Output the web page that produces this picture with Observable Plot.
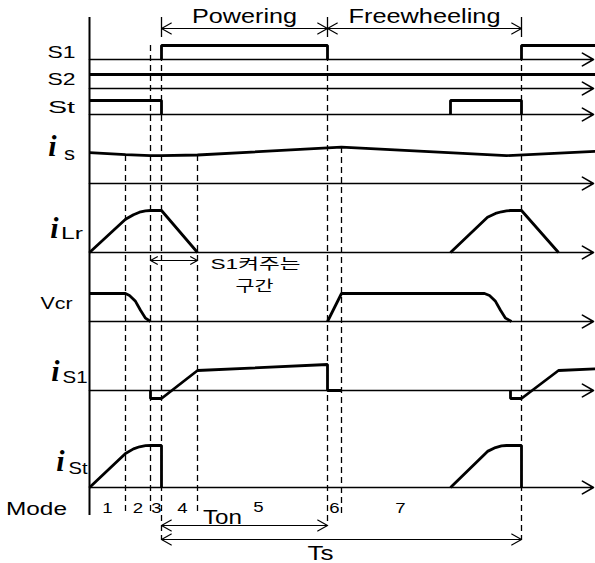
<!DOCTYPE html>
<html><head><meta charset="utf-8">
<script src="https://cdn.jsdelivr.net/npm/d3@7"></script>
<script src="https://cdn.jsdelivr.net/npm/@observablehq/plot@0.6"></script>
<style>body{margin:0;background:#fff}#chart{width:595px;height:563px}</style>
</head><body><div id="chart"></div>
<script>
// ---------------- DATA ----------------
// time unit: one switching period Ts = 360; t = 0 at the vertical axis
const lanes = ["S1", "S2", "St", "is", "iLr", "Vcr", "iS1", "iSt"];
const modeBounds = [36, 61, 72, 108, 238, 252, 432];
const modeNames = ["1", "2", "3", "4", "5", "6", "7"];
const modeLabelAt = [18, 48.5, 67, 93, 169, 245, 311];
const tEnd = 504;

// waveforms: list of segments, each a list of [t, normalized level]
const waveS1 = [[[72,0],[72,1],[238,1],[238,0]], [[432,0],[432,1],[506,1]]];
const waveS2 = [[[0,1],[506,1]]];
const waveSt = [[[0,1],[72,1],[72,0]], [[361,0],[361,1],[432,1],[432,0]]];
const waveIs = [[[0,1.03],[36,0.96],[61,0.93],[72,0.93],[108,0.95],[252,1.21],[417,0.93],[506,1.07]]];
const waveILr = [[[0,0],[36,0.79],[44,0.9],[50,0.96],[56,0.99],[61,1],[72,1],[108,0]],
                 [[361,0],[398,0.84],[406,0.93],[412,0.97],[417,0.99],[421,1],[432,1],[469,0]]];
const waveVcr = [[[0,1],[36,1],[40,0.93],[46,0.72],[51,0.4],[56,0.12],[61,0]],
                 [[238,0],[252,1],[395,1],[400,0.93],[406,0.72],[411,0.4],[416,0.12],[422,0]]];
const waveIS1 = [[[61,0],[61,-0.4],[72,-0.4],[108,1],[238,1.3],[238,0],[252,0]],
                 [[421,0],[421,-0.4],[432,-0.4],[469,1],[506,1.08]]];
const waveISt = [[[0,0],[36,0.81],[44,0.92],[50,0.97],[56,0.995],[61,1],[72,1],[72,0]],
                 [[361,0],[398,0.86],[406,0.95],[412,0.99],[417,1],[432,1],[432,0]]];

const spanNames = ["Powering", "Freewheeling", "Ton", "Ts", "S1켜주는 구간"];
const spanStart = [72, 238, 72, 72, 61];
const spanEnd = [238, 432, 238, 432, 108];

// ---------------- LAYOUT ----------------
const base = {S1:59, S2:88, St:114, is:183, iLr:252, Vcr:321, iS1:390, iSt:487};
const amp  = {S1:14, S2:14, St:14, is:30, iLr:42, Vcr:28, iS1:20, iSt:42};
const waves = {S1:waveS1, S2:waveS2, St:waveSt, is:waveIs, iLr:waveILr, Vcr:waveVcr, iS1:waveIS1, iSt:waveISt};
const X0 = 89;

const rows = [];
for (const lane of lanes) waves[lane].forEach((seg, k) => seg.forEach(([t, v]) =>
  rows.push({lane, seg: lane + k, t, y: base[lane] - v * amp[lane]})));

// dashed mode boundaries: [top, bottom]
const dashExtent = [[155,515],[45,515],[45,540],[155,512],[45,526],[147,513],[45,540]];
const dashRows = modeBounds.map((t, i) => ({t, y1: dashExtent[i][0], y2: dashExtent[i][1]}));
const tickRows = [72, 238, 432].map(t => ({t, y1: 17, y2: 37}));

const spanY = [28, 28, 525, 539, 260];
const arrows = [];
spanNames.forEach((s, i) => {
  const m = (spanStart[i] + spanEnd[i]) / 2;
  arrows.push({x1: m, x2: spanStart[i], y: spanY[i]});
  arrows.push({x1: m, x2: spanEnd[i], y: spanY[i]});
});

const texts = [
  {s: spanNames[0], px: 244, y: 22, size: 21, w: 105},
  {s: spanNames[1], px: 424, y: 22, size: 21, w: 152},
  {s: "S1", px: 61, y: 57, size: 17, w: 28},
  {s: "S2", px: 61, y: 84, size: 17, w: 28},
  {s: "St", px: 61, y: 112, size: 17, w: 27},
  {s: "s", px: 69, y: 159, size: 18, w: 11},
  {s: "Lr", px: 71.5, y: 238, size: 16.5, w: 22},
  {s: "Vcr", px: 56, y: 308, size: 17, w: 32},
  {s: "S1", px: 74.5, y: 382, size: 17, w: 25},
  {s: "St", px: 77.5, y: 473, size: 17, w: 19},
  {s: "Mode", px: 36, y: 514, size: 18, w: 61},
  ...modeNames.map((s, i) => ({s, px: modeLabelAt[i] + X0, y: i === 4 ? 511 : 512, size: 15.5})),
  {s: spanNames[2], px: 222, y: 523, size: 19.5, w: 39},
  {s: spanNames[3], px: 320, y: 559, size: 19.5, w: 26},
  {s: "S1켜주는", px: 255, y: 268, size: 15, w: 90},
  {s: "구간", px: 254, y: 290, size: 15, w: 38}
];
const italicI = [{px: 52, y: 155}, {px: 54, y: 237}, {px: 55, y: 380}, {px: 60, y: 470}];

const plot = Plot.plot({
  width: 595, height: 563, margin: 0,
  style: {fontFamily: "Liberation Sans, Arial, sans-serif"},
  x: {type: "linear", domain: [-X0, 595 - X0], range: [0, 595], axis: null},
  y: {type: "linear", domain: [0, 563], range: [0, 563], axis: null},
  marks: [
    Plot.ruleX([0], {x: d => d, y1: () => 17, y2: () => 515, stroke: "black", strokeWidth: 2}),
    Plot.ruleX(dashRows, {x: "t", y1: "y1", y2: "y2", stroke: "black", strokeWidth: 1.3, strokeDasharray: "6,4"}),
    Plot.ruleX(tickRows, {x: "t", y1: "y1", y2: "y2", stroke: "black", strokeWidth: 1.3}),
    Plot.arrow(lanes, {x1: () => 0, x2: () => tEnd, y1: d => base[d], y2: d => base[d],
      stroke: "black", strokeWidth: 1.6, headLength: 12, headAngle: 60}),
    Plot.arrow(arrows, {x1: "x1", x2: "x2", y1: "y", y2: "y", stroke: "black", strokeWidth: 1.2,
      headLength: 14, headAngle: 58}),
    Plot.line(rows, {x: "t", y: "y", z: "seg", stroke: "black", strokeWidth: 2.8,
      strokeLinejoin: "miter", strokeLinecap: "butt"}),
    Plot.text(texts, {x: d => d.px - X0, y: "y", text: "s", fontSize: d => d.size, textAnchor: "middle",
      lineAnchor: "bottom", fontFamily: "Liberation Sans, Arial, Noto Sans CJK KR, sans-serif",
      fill: "black", ariaDescription: "labels"}),
    Plot.text(italicI, {x: d => d.px - X0, y: "y", text: () => "i", fontSize: 30, textAnchor: "middle",
      lineAnchor: "bottom", fontFamily: "Liberation Serif, Times New Roman, serif", fontStyle: "italic",
      fontWeight: "bold", fill: "black"})
  ]
});
document.getElementById("chart").appendChild(plot);

// stretch sans labels horizontally like the reference
let g = plot.querySelector('g[aria-description="labels"]');
if (!g) {
  const groups = plot.querySelectorAll('g[aria-label="text"]');
  g = groups[0];
}
if (g) {
  g.querySelectorAll("text").forEach((el, i) => {
    const d = texts[i];
    const w = el.getComputedTextLength();
    const target = d && d.w ? d.w : w * 1.2;
    el.setAttribute("textLength", target);
    el.setAttribute("lengthAdjust", "spacingAndGlyphs");
  });
}
</script>
</body></html>
